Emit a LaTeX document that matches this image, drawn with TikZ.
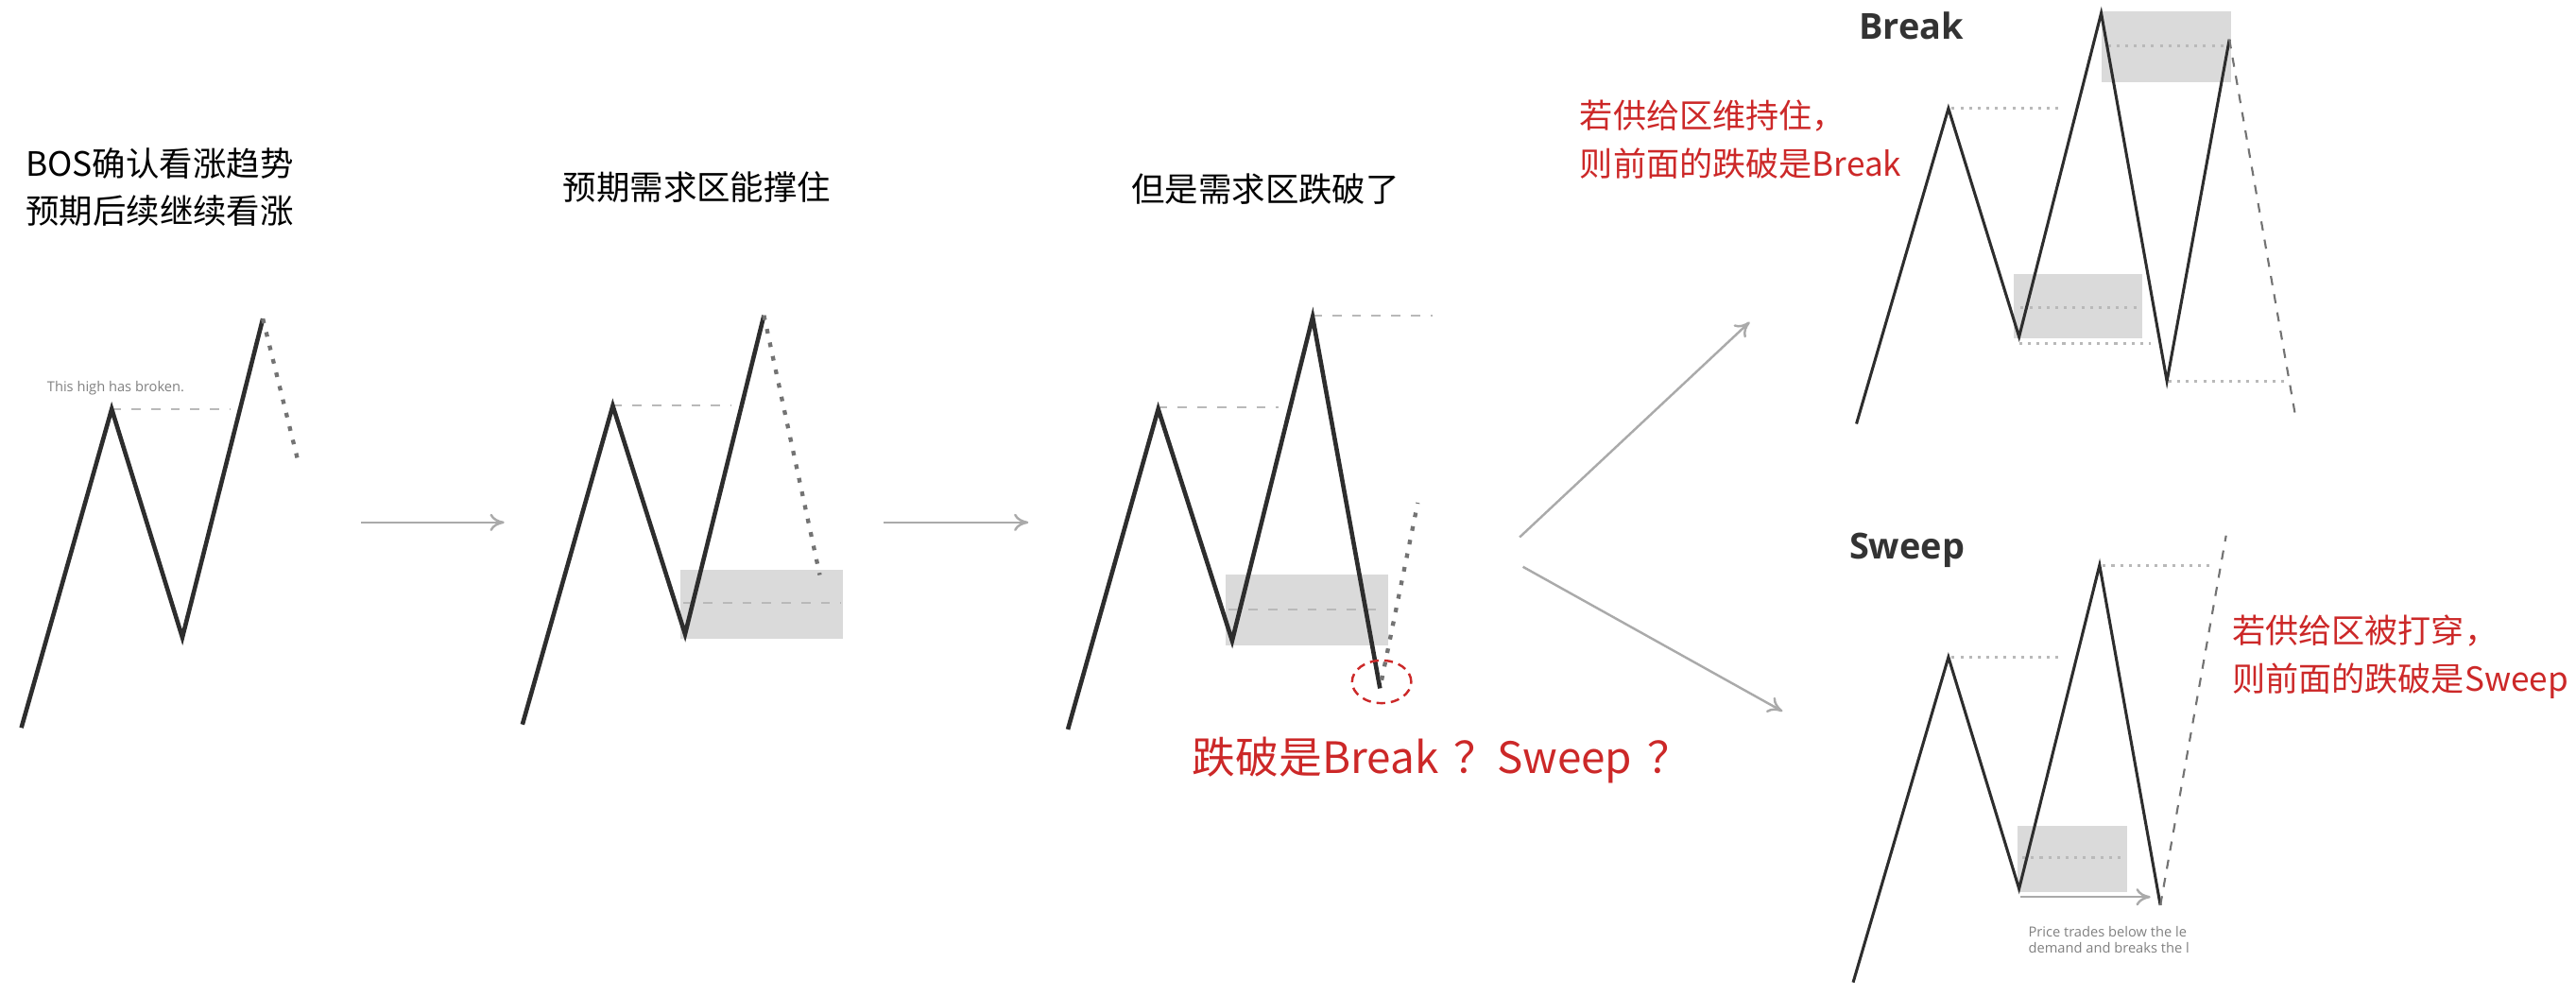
\documentclass[tikz,border=0pt]{standalone}
\usepackage{fontspec}
\newfontfamily\cjk{Noto Sans CJK SC}
\newfontfamily\chartfont{Open Sans}
\usetikzlibrary{arrows.meta}
\definecolor{inkgray}{RGB}{45,45,45}
\definecolor{zonegray}{RGB}{218,218,218}
\definecolor{levelgray}{RGB}{185,185,185}
\definecolor{flowgray}{RGB}{170,170,170}
\definecolor{warnred}{RGB}{204,40,40}

\begin{document}
\begin{tikzpicture}[x=0.1mm,y=-0.1mm,
  swing/.style={draw=inkgray,line width=0.75pt,line join=miter},
  thinswing/.style={draw=inkgray,line width=0.5pt,line join=miter},
  level/.style={draw=levelgray,line width=0.35pt,dash pattern=on 1.6pt off 1.8pt},
  dotlevel/.style={draw=levelgray,line width=0.5pt,dash pattern=on 0.5pt off 1pt},
  proj/.style={draw=black!55,line width=0.7pt,dash pattern=on 0.8pt off 1.6pt},
  projdash/.style={draw=black!55,line width=0.35pt,dash pattern=on 1.6pt off 1.6pt},
  zone/.style={fill=zonegray,draw=none},
  flow/.style={draw=flowgray,line width=0.4pt,-{To[length=2.5pt,width=3pt]}},
  heading/.style={font=\cjk\fontsize{5.8}{8.3}\selectfont,anchor=west,inner sep=0pt,align=left},
  remark/.style={font=\cjk\fontsize{5.75}{8.4}\selectfont,text=warnred,anchor=west,inner sep=0pt,align=left},
  question/.style={font=\cjk\fontsize{7.5}{9}\selectfont,text=warnred,anchor=west,inner sep=0pt},
  tag/.style={font=\chartfont\bfseries\fontsize{6.2}{7}\selectfont,text=black!80,anchor=base west,inner sep=0pt},
  hint/.style={font=\chartfont\fontsize{2.4}{2.8}\selectfont,text=black!50,anchor=west,inner sep=0pt,align=left}]
\useasboundingbox (0,0) rectangle (1568,606);

% bos
\node[heading] (bos) at (15,114) {BOS确认看涨趋势\\预期后续继续看涨};
\node[hint] (broken) at (28,236) {This high has broken.};
\draw[level] (68,249) -- (140,249);
\draw[swing] (13,443) -- (68,249) -- (111,388) -- (160,194);
\draw[proj] (160,194) -- (181,279);
\coordinate (a1) at (220,318);
\coordinate (b1) at (307,318);
\draw[flow] (a1) -- (b1);

% demand holds
\node[heading] (hold) at (342,114) {预期需求区能撑住};
\fill[zone] (414,347) rectangle (513,389);
\draw[level] (416,367) -- (512,367);
\draw[level] (373,247) -- (445,247);
\draw[swing] (318,441) -- (373,247) -- (417,386) -- (465,192);
\draw[proj] (465,192) -- (499,350);
\coordinate (a2) at (538,318);
\coordinate (b2) at (626,318);
\draw[flow] (a2) -- (b2);

% demand broken
\node[heading] (broke) at (688,115) {但是需求区跌破了};
\fill[zone] (746,350) rectangle (845,393);
\draw[level] (748,371) -- (842,371);
\draw[level] (705,248) -- (778,248);
\draw[level] (799,192) -- (872,192);
\draw[swing] (650,444) -- (705,249) -- (750,390) -- (799,193) -- (840,419);
\draw[proj] (841,414) -- (863,306);
\draw[warnred,line width=0.4pt,dash pattern=on 1.5pt off 1pt] (841,415) ellipse [x radius=1.8mm,y radius=1.3mm];
\node[question] (ask) at (725,463) {跌破是Break\hspace{0.35em}？Sweep\hspace{0.35em}？};
\coordinate (a3) at (925,327);
\coordinate (b3) at (1065,196);
\coordinate (a4) at (927,345);
\coordinate (b4) at (1085,433);
\draw[flow] (a3) -- (b3);
\draw[flow] (a4) -- (b4);

% break
\fill[zone] (1279,7) rectangle (1358,50);
\fill[zone] (1226,167) rectangle (1304,206);
\draw[dotlevel] (1283,28) -- (1356,28);
\draw[dotlevel] (1230,187) -- (1303,187);
\draw[dotlevel] (1229,209) -- (1309,209);
\draw[dotlevel] (1188,66) -- (1256,66);
\draw[dotlevel] (1320,232) -- (1393,232);
\draw[thinswing] (1130,258) -- (1186,66) -- (1229,205) -- (1279,8) -- (1319,232) -- (1357,24);
\draw[projdash] (1357,24) -- (1397,252);
\node[tag] (brk) at (1131,24) {Break};
\node[remark] (kept) at (961,85) {若供给区维持住，\\则前面的跌破是Break};

% sweep
\fill[zone] (1228,503) rectangle (1295,543);
\draw[dotlevel] (1231,522) -- (1293,522);
\draw[dotlevel] (1188,400) -- (1256,400);
\draw[dotlevel] (1280,344) -- (1348,344);
\draw[thinswing] (1128,598) -- (1186,400) -- (1229,541) -- (1278,344) -- (1315,551);
\draw[projdash] (1315,551) -- (1355,326);
\coordinate (c1) at (1230,546);
\coordinate (c2) at (1309,546);
\draw[flow] (c1) -- (c2);
\node[tag] (swp) at (1125,340) {Sweep};
\node[hint] (price) at (1234,572) {Price trades below the le\\demand and breaks the l};
\node[remark] (pierce) at (1358,400) {若供给区被打穿，\\则前面的跌破是Sweep};
\end{tikzpicture}
\end{document}
